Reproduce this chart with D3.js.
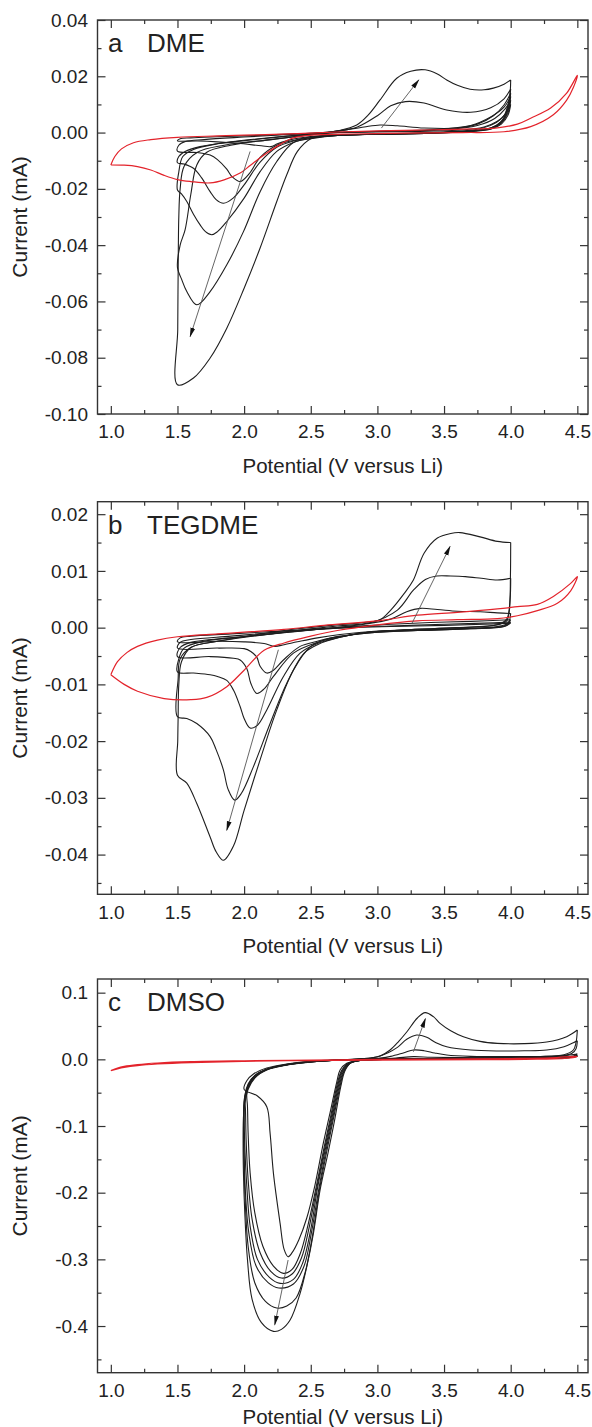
<!DOCTYPE html>
<html>
<head>
<meta charset="utf-8">
<script src="https://cdn.jsdelivr.net/npm/d3@7"></script>
<style>
  body { margin: 0; background: #fff; }
</style>
</head>
<body>
<div id="chart"></div>
<script>
// x axis (shared by all three panels)
const xMajor = [1.0, 1.5, 2.0, 2.5, 3.0, 3.5, 4.0, 4.5];
const xMinor = [1.25, 1.75, 2.25, 2.75, 3.25, 3.75, 4.25];
const xLabels = ["1.0", "1.5", "2.0", "2.5", "3.0", "3.5", "4.0", "4.5"];

// ---- panel a, DME ----
const dmeYMajor = [-0.10, -0.08, -0.06, -0.04, -0.02, 0.00, 0.02, 0.04];
const dmeYMinor = [-0.09, -0.07, -0.05, -0.03, -0.01, 0.01, 0.03];
const dmeYLabels = ["-0.10", "-0.08", "-0.06", "-0.04", "-0.02", "0.00", "0.02", "0.04"];

const dmeRed = [[1.00,-0.0115],[1.03,-0.0085],[1.08,-0.0058],[1.17,-0.0036],[1.30,-0.0025],[1.50,-0.0017],[1.80,-0.0012],[2.10,-0.0008],[2.40,-0.0004],[2.70,0.0002],[3.00,0.0006],[3.30,0.0009],[3.64,0.0012],[3.90,0.0017],[4.05,0.0030],[4.15,0.0051],[4.30,0.0087],[4.42,0.0140],[4.50,0.0203],
  [4.47,0.0160],[4.42,0.0115],[4.32,0.0063],[4.15,0.0021],[3.95,0.0003],[3.64,0.0000],[3.20,-0.0002],[2.80,-0.0005],[2.60,-0.0007],[2.45,-0.0012],[2.35,-0.0022],[2.27,-0.0042],[2.17,-0.0073],[2.05,-0.0115],[1.97,-0.0144],[1.85,-0.0168],[1.745,-0.0179],[1.60,-0.0174],[1.50,-0.0167],[1.40,-0.0152],[1.30,-0.0133],[1.20,-0.0121],[1.10,-0.0116],[1.00,-0.0115]];

const dmeCycle1 = [[4.00,0.0100],[3.98,0.0062],[3.93,0.0030],[3.85,0.0012],[3.70,0.0004],[3.40,-0.0002],[3.00,-0.0006],[2.70,-0.0009],[2.50,-0.0014],[2.35,-0.0025],[2.25,-0.0040],[2.20,-0.0050],[2.13,-0.0047],[1.95,-0.0038],[1.80,-0.0033],[1.65,-0.0030],[1.50,-0.0029],
  [1.52,-0.0022],[1.60,-0.0019],[1.80,-0.0015],[2.10,-0.0010],[2.40,-0.0004],[2.70,0.0000],[3.00,0.0002],[3.30,0.0004],[3.60,0.0008],[3.80,0.0020],[3.90,0.0040],[3.96,0.0066],[4.00,0.0100]];
const dmeCycle2 = [[4.00,0.0115],[3.98,0.0070],[3.93,0.0034],[3.85,0.0014],[3.70,0.0005],[3.40,-0.0002],[3.00,-0.0006],[2.70,-0.0010],[2.50,-0.0016],[2.37,-0.0028],[2.245,-0.0045],[2.12,-0.0088],[2.04,-0.0145],[1.97,-0.0174],[1.91,-0.0157],[1.87,-0.0130],[1.80,-0.0096],[1.745,-0.0080],[1.65,-0.0071],[1.50,-0.0066],
  [1.51,-0.0045],[1.56,-0.0032],[1.70,-0.0025],[2.00,-0.0016],[2.30,-0.0008],[2.60,-0.0001],[2.90,0.0003],[3.20,0.0006],[3.50,0.0010],[3.75,0.0025],[3.88,0.0050],[3.96,0.0085],[4.00,0.0115]];
const dmeCycle3 = [[4.00,0.0128],[3.98,0.0078],[3.93,0.0037],[3.85,0.0015],[3.70,0.0005],[3.40,-0.0002],[3.00,-0.0006],[2.70,-0.0010],[2.50,-0.0018],[2.37,-0.0030],[2.245,-0.0052],[2.12,-0.0105],[2.00,-0.0186],[1.92,-0.0232],[1.845,-0.0251],[1.79,-0.0238],[1.745,-0.0210],[1.68,-0.0160],[1.62,-0.0127],[1.55,-0.0112],[1.50,-0.0107],
  [1.51,-0.0085],[1.557,-0.0067],[1.67,-0.0050],[1.90,-0.0033],[2.20,-0.0018],[2.50,-0.0006],[2.80,0.0002],[3.10,0.0006],[3.40,0.0010],[3.70,0.0025],[3.85,0.0055],[3.95,0.0090],[4.00,0.0128]];
const dmeCycle4 = [[4.00,0.0140],[3.98,0.0085],[3.93,0.0040],[3.85,0.0016],[3.70,0.0005],[3.40,-0.0002],[3.00,-0.0006],[2.70,-0.0010],[2.50,-0.0020],[2.37,-0.0035],[2.245,-0.0067],[2.12,-0.0139],[2.00,-0.0233],[1.87,-0.0316],[1.80,-0.0352],[1.757,-0.0363],[1.71,-0.0352],[1.67,-0.0328],[1.62,-0.0290],[1.57,-0.0245],[1.53,-0.0218],[1.50,-0.0204],
  [1.51,-0.0140],[1.54,-0.0085],[1.62,-0.0060],[1.80,-0.0040],[2.10,-0.0024],[2.40,-0.0009],[2.70,0.0005],[2.90,0.0020],[3.02,0.0027],[3.15,0.0024],[3.35,0.0016],[3.60,0.0016],[3.75,0.0030],[3.87,0.0060],[3.95,0.0098],[4.00,0.0140]];
const dmeCycle5 = [[4.00,0.0155],[3.98,0.0095],[3.94,0.0045],[3.86,0.0018],[3.70,0.0006],[3.40,-0.0001],[3.00,-0.0006],[2.70,-0.0010],[2.50,-0.0022],[2.37,-0.0035],[2.245,-0.0103],[2.12,-0.0210],[1.995,-0.0352],[1.87,-0.0470],[1.745,-0.0565],[1.645,-0.0612],[1.57,-0.0565],[1.53,-0.0520],[1.50,-0.0480],
  [1.52,-0.0400],[1.557,-0.0346],[1.60,-0.0220],[1.645,-0.0115],[1.72,-0.0070],[1.90,-0.0045],[2.20,-0.0025],[2.50,-0.0008],[2.70,0.0005],[2.85,0.0020],[3.00,0.0060],[3.10,0.0095],[3.21,0.0110],[3.35,0.0105],[3.52,0.0080],[3.70,0.0072],[3.85,0.0088],[3.95,0.0120],[4.00,0.0155]];
const dmeCycle6 = [[4.00,0.0187],[3.99,0.0120],[3.95,0.0060],[3.87,0.0030],[3.75,0.0012],[3.50,0.0002],[3.10,-0.0004],[2.80,-0.0008],[2.62,-0.0010],[2.50,-0.0022],[2.40,-0.0067],[2.32,-0.0150],[2.245,-0.0245],[2.12,-0.0410],[2.00,-0.0553],[1.87,-0.0695],[1.745,-0.0801],[1.62,-0.0872],[1.50,-0.0896],
  [1.502,-0.0700],[1.505,-0.0500],[1.51,-0.0300],[1.52,-0.0200],[1.55,-0.0120],[1.65,-0.0070],[1.85,-0.0045],[2.20,-0.0025],[2.50,-0.0008],[2.70,0.0006],[2.845,0.0027],[2.93,0.0062],[3.02,0.0116],[3.145,0.0193],[3.25,0.0218],[3.358,0.0223],[3.45,0.0208],[3.52,0.0187],[3.60,0.0168],[3.695,0.0154],[3.80,0.0152],[3.87,0.0158],[3.95,0.0172],[4.00,0.0187]];
const dmeArrows = [[[2.045,-0.0067],[1.595,-0.0725]], [[3.03,0.0016],[3.31,0.0187]]];

// ---- panel b, TEGDME ----
const tegYMajor = [-0.04, -0.03, -0.02, -0.01, 0.00, 0.01, 0.02];
const tegYMinor = [-0.045, -0.035, -0.025, -0.015, -0.005, 0.005, 0.015];
const tegYLabels = ["-0.04", "-0.03", "-0.02", "-0.01", "0.00", "0.01", "0.02"];

const tegRed = [[1.00,-0.0083],[1.05,-0.0060],[1.12,-0.0044],[1.20,-0.0033],[1.35,-0.0022],[1.50,-0.0016],[1.80,-0.0011],[2.00,-0.0008],[2.30,-0.0003],[2.60,0.0004],[3.00,0.0012],[3.30,0.0022],[3.60,0.0027],[3.90,0.0033],[4.05,0.0037],[4.20,0.0041],[4.32,0.0055],[4.45,0.0078],[4.50,0.0090],
  [4.45,0.0065],[4.35,0.0043],[4.20,0.0030],[4.05,0.0021],[3.90,0.0016],[3.60,0.0014],[3.30,0.0012],[3.00,0.0005],[2.70,-0.0005],[2.50,-0.0015],[2.30,-0.0027],[2.15,-0.0040],[2.00,-0.0075],[1.87,-0.0104],[1.72,-0.0123],[1.60,-0.0127],[1.40,-0.0125],[1.20,-0.0112],[1.10,-0.0100],[1.00,-0.0083]];

const tegCycle0 = [[4.00,0.0008],[3.95,0.0002],[3.70,-0.0001],[3.30,-0.0004],[3.00,-0.0006],[2.72,-0.0012],[2.55,-0.0018],[2.40,-0.0025],[2.30,-0.0030],[2.23,-0.0033],[2.15,-0.0028],[2.00,-0.0025],[1.80,-0.0024],[1.50,-0.0025],
  [1.52,-0.0018],[1.60,-0.0015],[1.90,-0.0011],[2.20,-0.0007],[2.50,-0.0003],[2.80,0.0000],[3.10,0.0002],[3.50,0.0004],[3.80,0.0006],[4.00,0.0008]];
const tegCycle1 = [[4.00,0.0010],[3.95,0.0002],[3.70,-0.0002],[3.30,-0.0005],[3.00,-0.0008],[2.72,-0.0015],[2.55,-0.0024],[2.42,-0.0033],[2.295,-0.0057],[2.22,-0.0075],[2.17,-0.0080],[2.12,-0.0068],[2.095,-0.0052],[2.05,-0.0042],[2.00,-0.0037],[1.80,-0.0036],[1.50,-0.0036],
  [1.52,-0.0026],[1.60,-0.0021],[1.90,-0.0015],[2.20,-0.0009],[2.50,-0.0004],[2.80,0.0001],[3.10,0.0003],[3.50,0.0006],[3.80,0.0008],[4.00,0.0010]];
const tegCycle2 = [[4.00,0.0014],[3.96,0.0004],[3.70,-0.0002],[3.30,-0.0005],[3.00,-0.0008],[2.72,-0.0016],[2.55,-0.0026],[2.37,-0.0045],[2.22,-0.0086],[2.15,-0.0108],[2.095,-0.0116],[2.05,-0.0098],[2.02,-0.0072],[1.97,-0.0057],[1.92,-0.0054],[1.745,-0.0051],[1.50,-0.0051],
  [1.52,-0.0035],[1.60,-0.0026],[1.90,-0.0018],[2.20,-0.0011],[2.50,-0.0004],[2.80,0.0002],[3.10,0.0006],[3.40,0.0009],[3.70,0.0011],[4.00,0.0014]];
const tegCycle3 = [[4.00,0.0025],[3.98,0.0008],[3.90,0.0002],[3.60,-0.0002],[3.20,-0.0005],[2.90,-0.0009],[2.72,-0.0017],[2.55,-0.0028],[2.42,-0.0045],[2.295,-0.0086],[2.17,-0.0145],[2.10,-0.0172],[2.045,-0.0177],[2.00,-0.0160],[1.97,-0.0139],[1.92,-0.0110],[1.87,-0.0093],[1.80,-0.0086],[1.745,-0.0083],[1.62,-0.0080],[1.50,-0.0078],
  [1.51,-0.0055],[1.55,-0.0036],[1.70,-0.0024],[2.00,-0.0016],[2.30,-0.0009],[2.60,-0.0002],[2.90,0.0006],[3.10,0.0015],[3.22,0.0028],[3.32,0.0034],[3.45,0.0032],[3.60,0.0029],[3.77,0.0028],[3.90,0.0026],[4.00,0.0025]];
const tegCycle4 = [[4.00,0.0087],[3.995,0.0050],[3.97,0.0015],[3.90,0.0005],[3.60,0.0000],[3.20,-0.0004],[2.90,-0.0009],[2.72,-0.0017],[2.55,-0.0030],[2.45,-0.0045],[2.32,-0.0098],[2.195,-0.0169],[2.07,-0.0245],[1.98,-0.0292],[1.93,-0.0304],[1.88,-0.0285],[1.845,-0.0251],[1.79,-0.0215],[1.745,-0.0192],[1.645,-0.0169],[1.57,-0.0160],[1.50,-0.0157],
  [1.505,-0.0090],[1.52,-0.0055],[1.60,-0.0035],[1.80,-0.0024],[2.10,-0.0014],[2.40,-0.0005],[2.70,0.0003],[2.95,0.0009],[3.15,0.0031],[3.27,0.0066],[3.36,0.0085],[3.445,0.0091],[3.55,0.0091],[3.66,0.0090],[3.78,0.0087],[3.90,0.0084],[4.00,0.0087]];
const tegCycle5 = [[4.00,0.0150],[3.998,0.0090],[3.99,0.0030],[3.97,0.0012],[3.90,0.0005],[3.60,0.0000],[3.20,-0.0004],[2.90,-0.0009],[2.72,-0.0016],[2.62,-0.0020],[2.50,-0.0033],[2.37,-0.0075],[2.245,-0.0145],[2.12,-0.0233],[2.00,-0.0322],[1.92,-0.0385],[1.845,-0.0410],[1.79,-0.0395],[1.745,-0.0369],[1.645,-0.0310],[1.57,-0.0274],[1.50,-0.0260],
  [1.502,-0.0200],[1.505,-0.0157],[1.51,-0.0100],[1.53,-0.0060],[1.60,-0.0035],[1.80,-0.0024],[2.10,-0.0012],[2.40,-0.0002],[2.70,0.0005],[2.90,0.0009],[3.02,0.0014],[3.10,0.0031],[3.20,0.0060],[3.27,0.0084],[3.35,0.0131],[3.45,0.0158],[3.55,0.0166],[3.62,0.01675],[3.77,0.0160],[3.90,0.0152],[4.00,0.0150]];
const tegArrows = [[[2.257,-0.0039],[1.87,-0.0357]], [[3.26,0.0008],[3.545,0.0143]]];

// ---- panel c, DMSO ----
const dmsoYMajor = [-0.4, -0.3, -0.2, -0.1, 0.0, 0.1];
const dmsoYMinor = [-0.45, -0.35, -0.25, -0.15, -0.05, 0.05];
const dmsoYLabels = ["-0.4", "-0.3", "-0.2", "-0.1", "0.0", "0.1"];

const dmsoRed = [[1.00,-0.0170],[1.05,-0.0130],[1.10,-0.0105],[1.20,-0.0078],[1.35,-0.0055],[1.60,-0.0035],[2.00,-0.0022],[2.50,-0.0012],[3.00,-0.0002],[3.50,0.0005],[4.00,0.0012],[4.30,0.0022],[4.50,0.0045],
  [4.45,0.0020],[4.20,0.0002],[3.80,-0.0005],[3.00,-0.0012],[2.50,-0.0018],[2.00,-0.0030],[1.60,-0.0048],[1.35,-0.0070],[1.20,-0.0093],[1.10,-0.0120],[1.05,-0.0142],[1.00,-0.0170]];

const dmsoCycle1 = [[4.50,0.0050],[4.45,0.0030],[4.20,0.0020],[3.70,0.0010],[3.20,0.0003],[2.90,-0.0010],[2.84,-0.0025],[2.77,-0.0060],[2.72,-0.0160],[2.695,-0.0340],[2.645,-0.0800],[2.595,-0.1250],[2.53,-0.1900],[2.47,-0.2380],[2.41,-0.2710],[2.36,-0.2900],[2.33,-0.2960],[2.30,-0.2850],[2.27,-0.2460],[2.22,-0.1710],[2.195,-0.1110],[2.17,-0.0710],[2.10,-0.0550],[2.00,-0.0450],
  [2.02,-0.0320],[2.07,-0.0220],[2.17,-0.0130],[2.32,-0.0070],[2.50,-0.0030],[2.70,-0.0010],[2.90,0.0000],[3.10,0.0005],[3.50,0.0010],[4.00,0.0015],[4.40,0.0028],[4.50,0.0050]];
const dmsoCycle2 = [[4.50,0.0050],[4.45,0.0030],[4.20,0.0020],[3.70,0.0010],[3.20,0.0003],[2.90,-0.0010],[2.84,-0.0025],[2.78,-0.0060],[2.73,-0.0170],[2.70,-0.0360],[2.65,-0.0850],[2.60,-0.1320],[2.54,-0.1920],[2.48,-0.2480],[2.42,-0.2920],[2.36,-0.3150],[2.295,-0.3210],[2.22,-0.3100],[2.14,-0.2800],[2.08,-0.2300],[2.045,-0.1700],[2.03,-0.1100],[2.025,-0.0700],[2.02,-0.0520],
  [2.04,-0.0350],[2.09,-0.0230],[2.19,-0.0135],[2.34,-0.0070],[2.52,-0.0030],[2.72,-0.0010],[2.90,0.0002],[3.10,0.0008],[3.50,0.0012],[4.00,0.0018],[4.40,0.0030],[4.50,0.0050]];
const dmsoCycle3 = [[4.50,0.0045],[4.45,0.0028],[4.20,0.0018],[3.70,0.0008],[3.20,0.0002],[2.90,-0.0010],[2.84,-0.0025],[2.785,-0.0060],[2.735,-0.0170],[2.705,-0.0370],[2.655,-0.0860],[2.605,-0.1330],[2.545,-0.1930],[2.49,-0.2500],[2.43,-0.2980],[2.36,-0.3220],[2.28,-0.3280],[2.20,-0.3180],[2.12,-0.2900],[2.06,-0.2400],[2.03,-0.1800],[2.015,-0.1200],[2.01,-0.0750],[2.005,-0.0550],
  [2.03,-0.0370],[2.08,-0.0240],[2.18,-0.0140],[2.33,-0.0072],[2.52,-0.0032],[2.72,-0.0010],[2.90,0.0002],[3.10,0.0008],[3.50,0.0010],[4.00,0.0015],[4.40,0.0026],[4.50,0.0045]];
const dmsoCycle4 = [[4.50,0.0050],[4.45,0.0032],[4.20,0.0022],[3.70,0.0012],[3.20,0.0004],[2.90,-0.0010],[2.84,-0.0025],[2.79,-0.0060],[2.74,-0.0170],[2.71,-0.0380],[2.66,-0.0870],[2.61,-0.1340],[2.55,-0.1940],[2.50,-0.2550],[2.44,-0.3050],[2.37,-0.3300],[2.27,-0.3360],[2.19,-0.3270],[2.10,-0.3000],[2.045,-0.2500],[2.02,-0.1900],[2.005,-0.1300],[2.00,-0.0800],[2.001,-0.0600],
  [2.03,-0.0390],[2.08,-0.0250],[2.18,-0.0145],[2.34,-0.0075],[2.54,-0.0032],[2.74,-0.0010],[2.92,0.0003],[3.05,0.0010],[3.15,0.0022],[3.27,0.0040],[3.40,0.0032],[3.60,0.0026],[4.00,0.0025],[4.30,0.0030],[4.45,0.0040],[4.50,0.0050]];
const dmsoCycle5 = [[4.50,0.0080],[4.47,0.0050],[4.35,0.0030],[3.90,0.0015],[3.40,0.0005],[3.00,0.0000],[2.86,-0.0020],[2.79,-0.0060],[2.745,-0.0180],[2.715,-0.0390],[2.665,-0.0880],[2.615,-0.1360],[2.56,-0.1950],[2.505,-0.2600],[2.45,-0.3100],[2.37,-0.3370],[2.26,-0.3430],[2.18,-0.3350],[2.09,-0.3100],[2.035,-0.2600],[2.01,-0.2000],[2.00,-0.1400],[1.998,-0.0900],[2.00,-0.0650],
  [2.03,-0.0410],[2.08,-0.0260],[2.17,-0.0150],[2.33,-0.0078],[2.53,-0.0033],[2.73,-0.0010],[2.92,0.0005],[3.02,0.0020],[3.10,0.0045],[3.20,0.0100],[3.27,0.0140],[3.35,0.0130],[3.43,0.0095],[3.52,0.0065],[3.70,0.0045],[4.00,0.0040],[4.27,0.0045],[4.42,0.0060],[4.50,0.0080]];
const dmsoCycle6 = [[4.50,0.0280],[4.49,0.0160],[4.46,0.0090],[4.38,0.0050],[4.10,0.0030],[3.60,0.0015],[3.10,0.0002],[2.86,-0.0020],[2.795,-0.0060],[2.75,-0.0180],[2.72,-0.0400],[2.67,-0.0890],[2.62,-0.1380],[2.565,-0.1960],[2.515,-0.2620],[2.46,-0.3180],[2.39,-0.3580],[2.32,-0.3700],[2.245,-0.3730],[2.16,-0.3630],[2.08,-0.3350],[2.03,-0.2800],[2.01,-0.2200],[2.00,-0.1600],[1.995,-0.1000],[2.00,-0.0700],
  [2.03,-0.0430],[2.08,-0.0270],[2.17,-0.0155],[2.33,-0.0080],[2.53,-0.0034],[2.73,-0.0008],[2.90,0.0010],[3.00,0.0040],[3.08,0.0100],[3.15,0.0180],[3.22,0.0300],[3.295,0.0365],[3.37,0.0330],[3.44,0.0250],[3.52,0.0190],[3.70,0.0140],[3.90,0.0125],[4.10,0.0128],[4.27,0.0140],[4.40,0.0190],[4.47,0.0250],[4.50,0.0280]];
const dmsoCycle7 = [[4.50,0.0440],[4.49,0.0250],[4.47,0.0140],[4.40,0.0070],[4.20,0.0040],[3.80,0.0020],[3.40,0.0010],[3.00,0.0000],[2.86,-0.0020],[2.795,-0.0060],[2.755,-0.0180],[2.725,-0.0410],[2.68,-0.0900],[2.63,-0.1400],[2.57,-0.1960],[2.52,-0.2610],[2.47,-0.3110],[2.42,-0.3510],[2.345,-0.3910],[2.28,-0.4050],[2.22,-0.4080],[2.13,-0.3950],[2.06,-0.3600],[2.025,-0.3000],[2.005,-0.2300],[1.995,-0.1700],[1.993,-0.1100],[2.00,-0.0750],
  [2.03,-0.0450],[2.08,-0.0280],[2.17,-0.0160],[2.33,-0.0082],[2.53,-0.0035],[2.73,-0.0008],[2.88,0.0010],[2.95,0.0020],[3.02,0.0050],[3.095,0.0140],[3.16,0.0270],[3.22,0.0410],[3.30,0.0620],[3.358,0.0700],[3.42,0.0640],[3.47,0.0540],[3.55,0.0430],[3.645,0.0340],[3.77,0.0270],[3.90,0.0240],[4.10,0.0235],[4.27,0.0260],[4.42,0.0340],[4.50,0.0440]];
const dmsoArrows = [[[2.33,-0.301],[2.23,-0.398]], [[3.27,0.0114],[3.36,0.061]]];

const FONT = "'Liberation Sans', Arial, Helvetica, sans-serif";
const width = 592, height = 1427;
const left = 97.5, right = 588;

const panels = [
  { letter: "a", name: "DME", top: 20, bottom: 414, yDomain: [-0.10, 0.04], titleY: 473,
    yMajor: dmeYMajor, yMinor: dmeYMinor, yLabels: dmeYLabels,
    red: dmeRed, black: [dmeCycle1, dmeCycle2, dmeCycle3, dmeCycle4, dmeCycle5, dmeCycle6], arrows: dmeArrows },
  { letter: "b", name: "TEGDME", top: 501.7, bottom: 894.3, yDomain: [-0.047, 0.0222], titleY: 953,
    yMajor: tegYMajor, yMinor: tegYMinor, yLabels: tegYLabels,
    red: tegRed, black: [tegCycle0, tegCycle1, tegCycle2, tegCycle3, tegCycle4, tegCycle5], arrows: tegArrows },
  { letter: "c", name: "DMSO", top: 979, bottom: 1372.7, yDomain: [-0.47, 0.1205], titleY: 1424,
    yMajor: dmsoYMajor, yMinor: dmsoYMinor, yLabels: dmsoYLabels,
    red: dmsoRed, black: [dmsoCycle1, dmsoCycle2, dmsoCycle3, dmsoCycle4, dmsoCycle5, dmsoCycle6, dmsoCycle7], arrows: dmsoArrows }
];

const svg = d3.select("#chart").append("svg")
  .attr("width", width)
  .attr("height", height)
  .style("display", "block");

const defs = svg.append("defs");
defs.append("marker")
  .attr("id", "head")
  .attr("markerUnits", "userSpaceOnUse")
  .attr("markerWidth", 10).attr("markerHeight", 6)
  .attr("refX", 9).attr("refY", 3)
  .attr("orient", "auto")
  .append("path")
  .attr("d", "M0,0.6 L10,3 L0,5.4 Z")
  .attr("fill", "#111");

const x = d3.scaleLinear().domain([0.9, 4.58]).range([left, right]);

function styleAxis(g) {
  g.select(".domain").remove();
  g.attr("color", "#333");
  g.selectAll("line").attr("stroke-width", 1.2);
  g.selectAll("text").attr("font-family", FONT).attr("font-size", 19).attr("fill", "#222");
}

panels.forEach(p => {
  const y = d3.scaleLinear().domain(p.yDomain).range([p.bottom, p.top]);
  const g = svg.append("g");

  const line = d3.line()
    .x(d => x(d[0]))
    .y(d => y(d[1]))
    .curve(d3.curveCatmullRom.alpha(0.5));

  // black cycles first, red one on top
  g.selectAll(".cyc")
    .data(p.black)
    .enter()
    .append("path")
    .attr("class", "cyc")
    .attr("d", line)
    .attr("fill", "none")
    .attr("stroke", "#1e1e1e")
    .attr("stroke-width", 1.1);

  g.append("path")
    .attr("d", line(p.red))
    .attr("fill", "none")
    .attr("stroke", "#e3232b")
    .attr("stroke-width", 1.2);

  // arrows
  g.selectAll(".arrow")
    .data(p.arrows)
    .enter()
    .append("line")
    .attr("class", "arrow")
    .attr("x1", d => x(d[0][0])).attr("y1", d => y(d[0][1]))
    .attr("x2", d => x(d[1][0])).attr("y2", d => y(d[1][1]))
    .attr("stroke", "#555")
    .attr("stroke-width", 0.9)
    .attr("marker-end", "url(#head)");

  // axes, ticks pointing inwards on all four sides
  g.append("g")
    .attr("transform", "translate(0," + p.bottom + ")")
    .call(d3.axisBottom(x).tickValues(xMajor).tickFormat((d, i) => xLabels[i])
      .tickSizeInner(-8).tickSizeOuter(0).tickPadding(11))
    .call(styleAxis);
  g.append("g")
    .attr("transform", "translate(0," + p.bottom + ")")
    .call(d3.axisBottom(x).tickValues(xMinor).tickFormat("").tickSizeInner(-4).tickSizeOuter(0))
    .call(styleAxis);
  g.append("g")
    .attr("transform", "translate(0," + p.top + ")")
    .call(d3.axisTop(x).tickValues(xMajor).tickFormat("").tickSizeInner(-8).tickSizeOuter(0))
    .call(styleAxis);
  g.append("g")
    .attr("transform", "translate(0," + p.top + ")")
    .call(d3.axisTop(x).tickValues(xMinor).tickFormat("").tickSizeInner(-4).tickSizeOuter(0))
    .call(styleAxis);

  g.append("g")
    .attr("transform", "translate(" + left + ",0)")
    .call(d3.axisLeft(y).tickValues(p.yMajor).tickFormat((d, i) => p.yLabels[i])
      .tickSizeInner(-8).tickSizeOuter(0).tickPadding(9.5))
    .call(styleAxis);
  g.append("g")
    .attr("transform", "translate(" + left + ",0)")
    .call(d3.axisLeft(y).tickValues(p.yMinor).tickFormat("").tickSizeInner(-4).tickSizeOuter(0))
    .call(styleAxis);
  g.append("g")
    .attr("transform", "translate(" + right + ",0)")
    .call(d3.axisRight(y).tickValues(p.yMajor).tickFormat("").tickSizeInner(-8).tickSizeOuter(0))
    .call(styleAxis);
  g.append("g")
    .attr("transform", "translate(" + right + ",0)")
    .call(d3.axisRight(y).tickValues(p.yMinor).tickFormat("").tickSizeInner(-4).tickSizeOuter(0))
    .call(styleAxis);

  // frame
  g.append("rect")
    .attr("x", left).attr("y", p.top)
    .attr("width", right - left).attr("height", p.bottom - p.top)
    .attr("fill", "none")
    .attr("stroke", "#333")
    .attr("stroke-width", 1.4);

  // panel letter and solvent name
  g.append("text")
    .attr("x", 108).attr("y", p.top + 32)
    .attr("font-family", FONT).attr("font-size", 26).attr("fill", "#222")
    .text(p.letter);
  g.append("text")
    .attr("x", 147).attr("y", p.top + 32)
    .attr("font-family", FONT).attr("font-size", 26).attr("fill", "#222")
    .text(p.name);

  // axis titles
  g.append("text")
    .attr("x", (left + right) / 2).attr("y", p.titleY)
    .attr("text-anchor", "middle")
    .attr("font-family", FONT).attr("font-size", 20.5).attr("fill", "#222")
    .text("Potential (V versus Li)");
  g.append("text")
    .attr("transform", "translate(20," + ((p.top + p.bottom) / 2) + ") rotate(-90)")
    .attr("text-anchor", "middle")
    .attr("dy", "0.35em")
    .attr("font-family", FONT).attr("font-size", 21).attr("fill", "#222")
    .text("Current (mA)");
});
</script>
</body>
</html>
